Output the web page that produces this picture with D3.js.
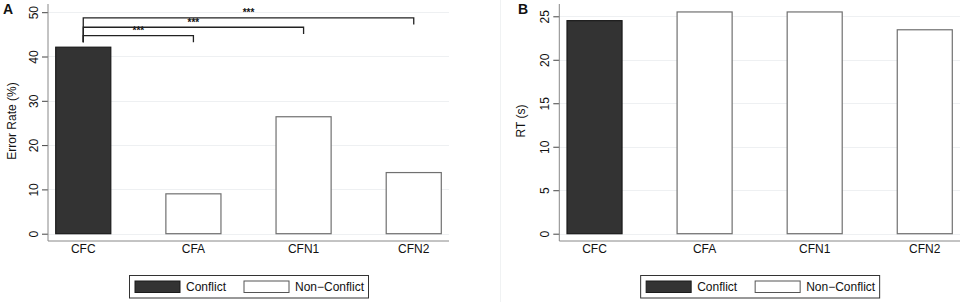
<!DOCTYPE html>
<html>
<head>
<meta charset="utf-8">
<script src="https://cdn.jsdelivr.net/npm/d3@7"></script>
<style>
  body { margin: 0; background: #fff; }
  svg text { font-family: "Liberation Sans", Arial, sans-serif; fill: #111; }
</style>
</head>
<body>
<div id="chart"></div>
<script>
// categories shown on both panels
var conditions = ["CFC", "CFA", "CFN1", "CFN2"];
// which condition is the conflict one
var conditionType = ["Conflict", "Non-Conflict", "Non-Conflict", "Non-Conflict"];

// panel A values (error rate %)
var errorRate = [42.1, 9.0, 26.4, 13.8];
var errorTicks = [0, 10, 20, 30, 40, 50];

// panel B values (RT seconds)
var rtValues = [24.5, 25.5, 25.5, 23.45];
var rtTicks = [0, 5, 10, 15, 20, 25];

// significance brackets for panel A
var compFrom = ["CFC", "CFC", "CFC"];
var compTo = ["CFA", "CFN1", "CFN2"];
var compLevel = [44.7, 46.6, 48.7];
var compLabel = ["***", "***", "***"];

// legend entries
var legendNames = ["Conflict", "Non\u2212Conflict"];

var width = 964, height = 302;

var svg = d3.select("#chart")
    .append("svg")
        .attr("width", width)
        .attr("height", height);

// colour per type
var fillScale = d3.scaleOrdinal()
    .domain(["Conflict", "Non-Conflict"])
    .range(["#333333", "#ffffff"]);
var strokeScale = d3.scaleOrdinal()
    .domain(["Conflict", "Non-Conflict"])
    .range(["#1a1a1a", "#707070"]);

// faint border between the panels
svg.append("line")
    .attr("x1", 500.5).attr("x2", 500.5)
    .attr("y1", 0).attr("y2", height)
    .attr("stroke", "#f0f2f3");

// function to draw one panel
function drawPanel(opts) {

    var left = opts.left, right = opts.right;
    var top = 4, axisY = 241;

    var x = d3.scaleBand()
        .domain(conditions)
        .range([left, right])
        .paddingInner(0.5)
        .paddingOuter(0.07);

    var y = d3.scaleLinear()
        .domain([0, opts.max])
        .range([233.7, opts.maxY]);

    var g = svg.append("g");

    // gridlines
    g.selectAll(".grid")
        .data(opts.ticks)
        .enter()
        .append("line")
            .attr("x1", left).attr("x2", right)
            .attr("y1", d => Math.round(y(d)) + 0.5)
            .attr("y2", d => Math.round(y(d)) + 0.5)
            .attr("stroke", "#eef0f2")
            .attr("stroke-width", 1);

    // bars
    g.selectAll(".bar")
        .data(opts.values)
        .enter()
        .append("rect")
            .attr("x", (d, i) => x(conditions[i]))
            .attr("width", x.bandwidth())
            .attr("y", d => y(d))
            .attr("height", d => y(0) - y(d))
            .attr("fill", (d, i) => fillScale(conditionType[i]))
            .attr("stroke", (d, i) => strokeScale(conditionType[i]))
            .attr("stroke-width", 1.2);

    // y axis
    var yAxis = g.append("g")
        .attr("transform", `translate(${left},0)`)
        .call(d3.axisLeft(y).tickValues(opts.ticks).tickSize(6).tickSizeOuter(0).tickPadding(4));
    yAxis.select(".domain").remove();
    yAxis.selectAll(".tick line").attr("stroke", "#444");
    yAxis.selectAll(".tick text")
        .attr("transform", "rotate(-90)")
        .attr("x", 0)
        .attr("dy", 0)
        .attr("y", -10)
        .attr("text-anchor", "middle")
        .style("font-size", "12px")
        .style("font-family", "'Liberation Sans', Arial, sans-serif")
        .attr("fill", "#111");
    g.append("line")
        .attr("x1", left).attr("x2", left)
        .attr("y1", top).attr("y2", axisY)
        .attr("stroke", "#888");

    // x axis
    g.append("line")
        .attr("x1", left).attr("x2", right)
        .attr("y1", axisY).attr("y2", axisY)
        .attr("stroke", "#888");
    g.selectAll(".xlab")
        .data(conditions)
        .enter()
        .append("text")
            .attr("x", d => x(d) + x.bandwidth() / 2)
            .attr("y", 253)
            .attr("text-anchor", "middle")
            .style("font-size", "12px")
            .text(d => d);

    // y axis title
    g.append("text")
        .attr("transform", `translate(${opts.titleX},${opts.titleY}) rotate(-90)`)
        .attr("text-anchor", "middle")
        .style("font-size", "12px")
        .text(opts.title);

    // panel letter
    g.append("text")
        .attr("x", opts.letterX)
        .attr("y", 14)
        .style("font-size", "14px")
        .style("font-weight", "bold")
        .text(opts.letter);

    // legend
    var legMid = (left + right) / 2;
    var legW = 239, legH = 22.5;
    var leg = g.append("g").attr("transform", `translate(${legMid - legW / 2},275)`);
    leg.append("rect")
        .attr("x", 0.5).attr("y", 0.5)
        .attr("width", legW).attr("height", legH)
        .attr("fill", "#fff")
        .attr("stroke", "#333");
    leg.selectAll(".sw")
        .data(legendNames)
        .enter()
        .append("rect")
            .attr("x", (d, i) => 6 + i * 109)
            .attr("y", 6)
            .attr("width", 45)
            .attr("height", 11.5)
            .attr("fill", (d, i) => fillScale(i == 0 ? "Conflict" : "Non-Conflict"))
            .attr("stroke", (d, i) => i == 0 ? "#1a1a1a" : "#555");
    leg.selectAll(".lt")
        .data(legendNames)
        .enter()
        .append("text")
            .attr("x", (d, i) => 57 + i * 109)
            .attr("y", 16)
            .style("font-size", "12px")
            .text(d => d);

    return {x: x, y: y, g: g};
}

// panel A
var pA = drawPanel({
    left: 48, right: 449, values: errorRate, ticks: errorTicks,
    max: 50, maxY: 12.2, title: "Error Rate (%)", titleX: 16, titleY: 121,
    letter: "A", letterX: 3
});

// panel B
var pB = drawPanel({
    left: 559.3, right: 960, values: rtValues, ticks: rtTicks,
    max: 25, maxY: 16.3, title: "RT (s)", titleX: 525, titleY: 121,
    letter: "B", letterX: 518
});

// significance brackets on panel A
var bx = d => pA.x(d) + pA.x.bandwidth() / 2;
var legBottom = 43.2;
for (let i = 0; i < compFrom.length; i++) {
    let yL = pA.y(compLevel[i]);
    let x1 = bx(compFrom[i]), x2 = bx(compTo[i]);
    pA.g.append("path")
        .attr("d", `M${x1},${pA.y(legBottom)}V${yL}H${x2}V${pA.y(compLevel[i] - 1.5)}`)
        .attr("fill", "none")
        .attr("stroke", "#222")
        .attr("stroke-width", 1.3);
    pA.g.append("text")
        .attr("x", (x1 + x2) / 2)
        .attr("y", yL - 1.5)
        .attr("text-anchor", "middle")
        .style("font-size", "10px")
        .style("font-weight", "bold")
        .text(compLabel[i]);
}
</script>
</body>
</html>
